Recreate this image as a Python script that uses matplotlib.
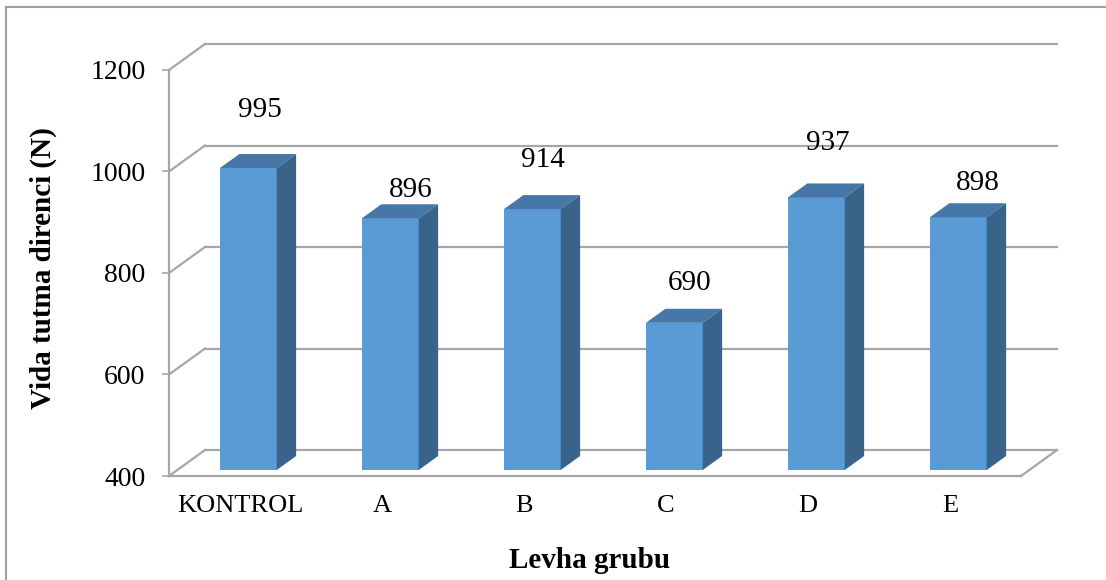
import numpy as np
import matplotlib.pyplot as plt
from matplotlib.patches import Polygon, Rectangle

plt.rcParams['font.family'] = ['Liberation Serif', 'DejaVu Serif']

# Group names and screw holding strength (N)
groups = ["KONTROL", "A", "B", "C", "D", "E"]
strength = [995, 896, 914, 690, 937, 898]
yticks = [400, 600, 800, 1000, 1200]

# label nudges in pixels (x, y) relative to the top of each bar's front face
label_shift = [(12, -58), (20, -28), (11, -49), (15, -40), (12, -54), (20, -34)]

# pseudo-3D depth of the plot box, in data units
DX, DY = 0.2535, 51.2
F0, F1 = 0.23, 0.77      # bar front / back position inside the depth
WIDTH = 0.40

front_c = "#5B9BD5"
top_c = "#4677A8"
side_c = "#3A6389"
grid_c = "#A6A6A6"

fig = plt.figure(figsize=(11.06, 5.8), dpi=100)
ax = fig.add_axes([169 / 1106, 104 / 580, 888 / 1106, 432 / 580])
ax.set_xlim(-0.5, 5.5 + DX)
ax.set_ylim(400, 1200 + DY)
for s in ax.spines.values():
    s.set_visible(False)

# back wall gridlines and left wall diagonals
for v in yticks:
    ax.plot([-0.5 + DX, 5.5 + DX], [v + DY, v + DY], color=grid_c, lw=1.6, clip_on=False, zorder=1)
    ax.plot([-0.5, -0.5 + DX], [v, v + DY], color=grid_c, lw=1.6, clip_on=False, zorder=1)

# floor outline and front value axis
ax.plot([-0.5, 5.5], [400, 400], color=grid_c, lw=1.6, clip_on=False, zorder=1)
ax.plot([5.5, 5.5 + DX], [400, 400 + DY], color=grid_c, lw=1.6, clip_on=False, zorder=1)
ax.plot([-0.5, -0.5], [400, 1200], color=grid_c, lw=1.6, clip_on=False, zorder=1)

x = np.arange(len(groups))
vals = np.array(strength)
fx = x + F0 * DX
fb = 400 + F0 * DY
ddx, ddy = (F1 - F0) * DX, (F1 - F0) * DY

ax.bar(fx, vals - 400, bottom=fb, width=WIDTH, color=front_c, zorder=3)
for xi, v in zip(fx, vals):
    l, r, t = xi - WIDTH / 2, xi + WIDTH / 2, v + F0 * DY
    ax.add_patch(Polygon([(l, t), (r, t), (r + ddx, t + ddy), (l + ddx, t + ddy)],
                         closed=True, facecolor=top_c, edgecolor="none", zorder=3))
    ax.add_patch(Polygon([(r, fb), (r + ddx, fb + ddy), (r + ddx, t + ddy), (r, t)],
                         closed=True, facecolor=side_c, edgecolor="none", zorder=3))

for xi, v, (sx, sy) in zip(fx, vals, label_shift):
    ax.annotate(str(v), (xi, v + F0 * DY), xytext=(sx, -sy), textcoords="offset pixels",
                ha="center", va="center", fontsize=21, zorder=5)

ax.set_xticks(x, groups, fontsize=19)
ax.set_yticks(yticks, [str(t) for t in yticks], fontsize=20)
ax.tick_params(axis="x", length=0, pad=14)
ax.tick_params(axis="y", length=5, width=1.2, color=grid_c, pad=12)

fig.text(43 / 1106, 1 - 268 / 580, "Vida tutma direnci (N)", rotation=90,
         ha="center", va="center", fontsize=21, fontweight="bold")
fig.text(590 / 1106, 1 - 560 / 580, "Levha grubu", ha="center", va="center",
         fontsize=21, fontweight="bold")

# chart area border
fig.add_artist(Rectangle((5.5 / 1106, -0.1), 1.2, 1 - 6.5 / 580 + 0.1, transform=fig.transFigure,
                         fill=False, edgecolor="#A0A0A0", lw=1.5))

fig.savefig("out.png", dpi=100)
